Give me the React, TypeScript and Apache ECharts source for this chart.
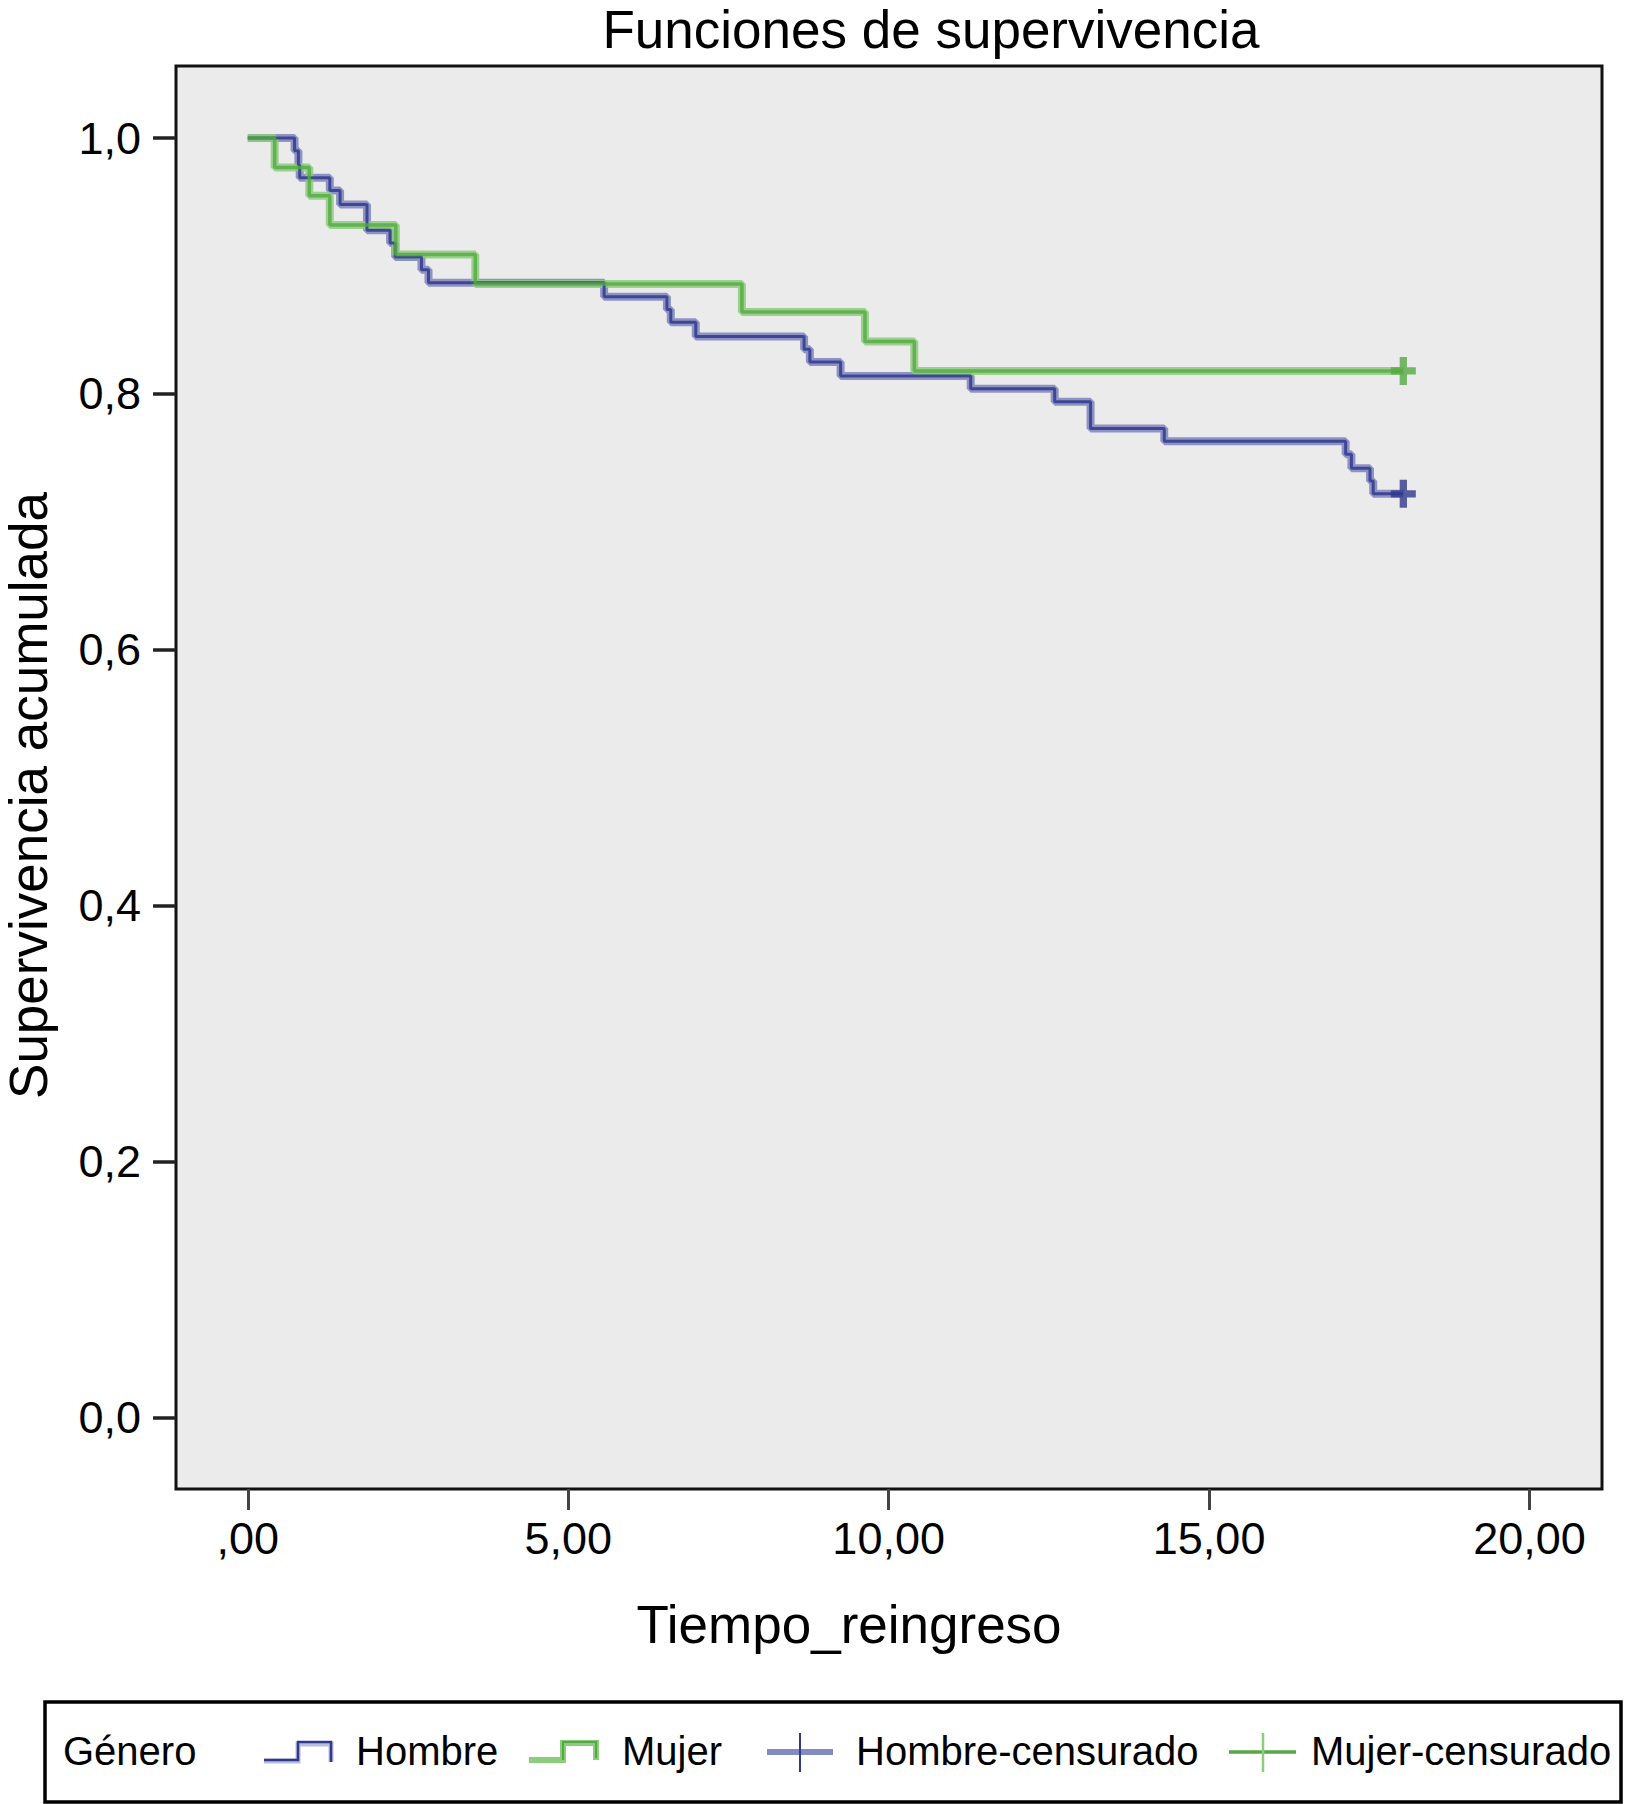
import { useEffect, useRef } from "react";
import * as echarts from "echarts";

// Kaplan-Meier steps (time, cumulative survival)
const hombreTimes = [0, 0.73, 0.79, 0.81, 1.28, 1.44, 1.86, 2.22, 2.3, 2.71, 2.82, 5.56, 6.54, 6.6, 6.99, 8.68, 8.77, 9.25, 11.28, 12.59, 13.15, 14.3, 17.13, 17.22, 17.51, 17.56, 18.03];
const hombreSurv = [1.0, 0.99, 0.979, 0.969, 0.959, 0.948, 0.928, 0.918, 0.907, 0.897, 0.887, 0.876, 0.866, 0.856, 0.845, 0.835, 0.825, 0.814, 0.804, 0.794, 0.773, 0.763, 0.753, 0.742, 0.732, 0.722, 0.722];
const mujerTimes = [0, 0.42, 0.96, 1.28, 2.31, 3.55, 7.71, 9.63, 10.4, 18.03];
const mujerSurv = [1.0, 0.977, 0.955, 0.932, 0.909, 0.886, 0.864, 0.841, 0.818, 0.818];
const hombreCensTimes = [18.03];
const hombreCensSurv = [0.722];
const mujerCensTimes = [18.03];
const mujerCensSurv = [0.818];

const xTicks = [0, 5, 10, 15, 20];
const xTickLabels = [",00", "5,00", "10,00", "15,00", "20,00"];
const yTicks = [0, 0.2, 0.4, 0.6, 0.8, 1.0];
const yTickLabels = ["0,0", "0,2", "0,4", "0,6", "0,8", "1,0"];

const FONT = "'Liberation Sans', Arial, Helvetica, sans-serif";
const BLUE_DARK = "#303a8d";
const BLUE_LIGHT = "#858ac0";
const GREEN_DARK = "#55a944";
const GREEN_LIGHT = "#8ccc7d";
const PLUS = "path://M8.5,0 H15.5 V10 H24 V17 H15.5 V27 H8.5 V17 H0 V10 H8.5 Z";

function pair(ts: number[], vs: number[]) {
  return ts.map((t, i) => [t, vs[i]]);
}
function lookup(ticks: number[], labels: string[], v: number) {
  const i = ticks.findIndex((t) => Math.abs(t - v) < 1e-6);
  return i >= 0 ? labels[i] : "";
}

export default function App() {
  const ref = useRef<HTMLDivElement>(null);
  useEffect(() => {
    document.body.style.margin = "0";
    if (!ref.current) return;
    const chart = echarts.init(ref.current, null, { renderer: "svg" });
    const legendY = 1751;
    const option: any = {
      animation: false,
      backgroundColor: "#ffffff",
      title: {
        text: "Funciones de supervivencia",
        left: 926,
        top: -2,
        textAlign: "center",
        textStyle: { fontFamily: FONT, fontSize: 53, fontWeight: "normal", color: "#000" },
      },
      grid: {
        left: 176,
        top: 66,
        right: 25,
        bottom: 315,
        containLabel: false,
        outerBoundsMode: "none",
        show: true,
        backgroundColor: "#ebebeb",
        borderColor: "#111",
        borderWidth: 3,
      },
      xAxis: {
        type: "value",
        min: -1.12,
        max: 21.13,
        name: "Tiempo_reingreso",
        nameLocation: "middle",
        nameGap: 109,
        nameTextStyle: { fontFamily: FONT, fontSize: 53, color: "#000", padding: [0, 80, 0, 0] },
        axisLine: { show: false, onZero: false },
        splitLine: { show: false },
        axisTick: { show: true, customValues: xTicks, length: 21, lineStyle: { color: "#444", width: 3 } },
        axisLabel: {
          customValues: xTicks,
          margin: 27,
          fontFamily: FONT,
          fontSize: 45,
          color: "#000",
          formatter: (v: number) => lookup(xTicks, xTickLabels, v),
        },
      },
      yAxis: {
        type: "value",
        min: -0.0557,
        max: 1.0563,
        name: "Supervivencia acumulada",
        nameLocation: "middle",
        nameGap: 121,
        nameTextStyle: { fontFamily: FONT, fontSize: 53, color: "#000", padding: [0, 36, 0, 0] },
        axisLine: { show: false, onZero: false },
        splitLine: { show: false },
        axisTick: { show: true, customValues: yTicks, length: 23, lineStyle: { color: "#222", width: 3.5 } },
        axisLabel: {
          customValues: yTicks,
          margin: 35,
          fontFamily: FONT,
          fontSize: 45,
          color: "#000",
          formatter: (v: number) => lookup(yTicks, yTickLabels, v),
        },
      },
      series: [
        {
          name: "Hombre",
          type: "line",
          step: "end",
          data: pair(hombreTimes, hombreSurv),
          symbol: "none",
          silent: true,
          lineStyle: { color: BLUE_LIGHT, width: 8, opacity: 0.9 },
          z: 2,
        },
        {
          name: "Mujer",
          type: "line",
          step: "end",
          data: pair(mujerTimes, mujerSurv),
          symbol: "none",
          silent: true,
          lineStyle: { color: GREEN_LIGHT, width: 8, opacity: 0.85 },
          z: 3,
        },
        {
          name: "Hombre",
          type: "line",
          step: "end",
          data: pair(hombreTimes, hombreSurv),
          symbol: "none",
          silent: true,
          lineStyle: { color: BLUE_DARK, width: 3, opacity: 0.85 },
          z: 4,
        },
        {
          name: "Mujer",
          type: "line",
          step: "end",
          data: pair(mujerTimes, mujerSurv),
          symbol: "none",
          silent: true,
          lineStyle: { color: GREEN_DARK, width: 3.5, opacity: 0.8 },
          z: 5,
        },
        {
          name: "Hombre-censurado",
          type: "scatter",
          data: pair(hombreCensTimes, hombreCensSurv),
          symbol: PLUS,
          symbolSize: [25, 28],
          itemStyle: { color: BLUE_DARK },
          z: 6,
        },
        {
          name: "Mujer-censurado",
          type: "scatter",
          data: pair(mujerCensTimes, mujerCensSurv),
          symbol: PLUS,
          symbolSize: [25, 28],
          itemStyle: { color: GREEN_DARK },
          z: 6,
        },
      ],
      graphic: [
        {
          type: "rect",
          shape: { x: 45, y: 1702, width: 1576, height: 100 },
          style: { fill: "#fff", stroke: "#000", lineWidth: 3.5 },
        },
        {
          type: "text",
          x: 63,
          y: legendY,
          style: { text: "Género", fontFamily: FONT, fontSize: 40, fill: "#000", textVerticalAlign: "middle" },
        },
        // Hombre icon
        {
          type: "polyline",
          shape: { points: [[264, 1761], [298, 1761], [298, 1744], [331, 1744], [331, 1762]] },
          style: { stroke: "#b9bde0", lineWidth: 5, fill: "none" },
        },
        {
          type: "polyline",
          shape: { points: [[264, 1760], [298, 1760], [298, 1742], [331, 1742], [331, 1762]] },
          style: { stroke: BLUE_DARK, lineWidth: 2.5, fill: "none" },
        },
        {
          type: "text",
          x: 356,
          y: legendY,
          style: { text: "Hombre", fontFamily: FONT, fontSize: 40, fill: "#000", textVerticalAlign: "middle" },
        },
        // Mujer icon
        {
          type: "polyline",
          shape: { points: [[529, 1760], [563, 1760], [563, 1743], [596, 1743], [596, 1760]] },
          style: { stroke: GREEN_LIGHT, lineWidth: 6, fill: "none" },
        },
        {
          type: "polyline",
          shape: { points: [[563, 1760], [563, 1742], [596, 1742], [596, 1758]] },
          style: { stroke: GREEN_DARK, lineWidth: 2, fill: "none" },
        },
        {
          type: "text",
          x: 622,
          y: legendY,
          style: { text: "Mujer", fontFamily: FONT, fontSize: 40, fill: "#000", textVerticalAlign: "middle" },
        },
        // Hombre-censurado icon
        {
          type: "line",
          shape: { x1: 767, y1: 1752, x2: 833, y2: 1752 },
          style: { stroke: BLUE_LIGHT, lineWidth: 6 },
        },
        {
          type: "line",
          shape: { x1: 800, y1: 1733, x2: 800, y2: 1772 },
          style: { stroke: BLUE_DARK, lineWidth: 2 },
        },
        {
          type: "text",
          x: 856,
          y: legendY,
          style: { text: "Hombre-censurado", fontFamily: FONT, fontSize: 40, fill: "#000", textVerticalAlign: "middle" },
        },
        // Mujer-censurado icon
        {
          type: "line",
          shape: { x1: 1229, y1: 1752, x2: 1296, y2: 1752 },
          style: { stroke: GREEN_DARK, lineWidth: 3.5 },
        },
        {
          type: "line",
          shape: { x1: 1263, y1: 1733, x2: 1263, y2: 1772 },
          style: { stroke: GREEN_LIGHT, lineWidth: 2.5 },
        },
        {
          type: "text",
          x: 1311,
          y: legendY,
          style: { text: "Mujer-censurado", fontFamily: FONT, fontSize: 40, fill: "#000", textVerticalAlign: "middle" },
        },
      ],
    };
    chart.setOption(option);
    return () => chart.dispose();
  }, []);
  return <div ref={ref} style={{ width: 1627, height: 1804 }} />;
}
